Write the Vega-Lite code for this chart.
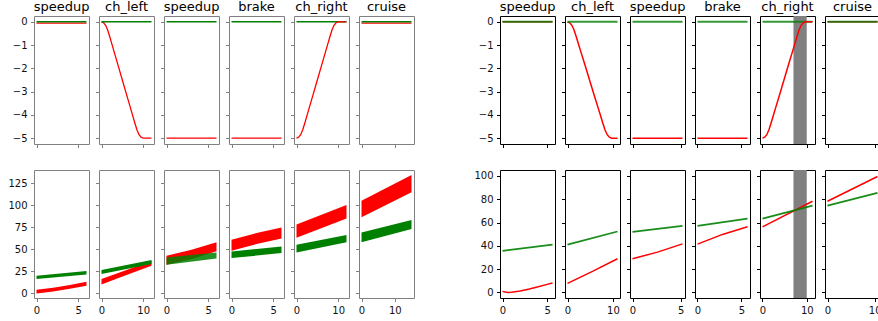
{
"$schema": "https://vega.github.io/schema/vega-lite/v6.json",
"padding": {"left": 7, "top": 0, "right": 0, "bottom": 0},
"columns": 13,
"bounds": "flush",
"align": "each",
"spacing": {"row": 26, "column": 10},
"config": {
  "font": "DejaVu Sans",
  "axis": {"domain": false, "grid": false, "tickSize": 3.5, "tickWidth": 1, "tickColor": "#000", "labelFontSize": 10, "labelPadding": 3.5, "labelColor": "#111", "labelFlush": false, "labelOverlap": false},
  "title": {"fontSize": 13, "fontWeight": "normal", "offset": 2.5, "color": "#000"},
  "view": {"strokeWidth": 1, "stroke": "#000"},
  "line": {"strokeCap": "butt"}
},
"concat": [
{
 "title": "speedup", "width": 55, "height": 128, "view": {"stroke": "#808080"},
 "data": {"values": [{"t":0,"y":-0.06,"agent":"ego"},{"t":6,"y":-0.06,"agent":"ego"},{"t":0,"y":0,"agent":"other"},{"t":6,"y":0,"agent":"other"}]},
 "encoding": {
  "x": {"field":"t","type":"quantitative","scale":{"domain":[-0.3,6.3],"nice":false,"zero":false},"axis":{"values":[0,5],"labels":false,"title":null,"tickColor":"#808080"}},
  "y": {"field":"y","type":"quantitative","scale":{"domain":[-5.25,0.25],"nice":false,"zero":false},"axis":{"values":[-5,-4,-3,-2,-1,0],"title":null,"tickColor":"#808080"}},
  "color": {"field":"agent","type":"nominal","scale":{"domain":["ego","other"],"range":["#ff0000","#008000"]},"legend":null}
 },
 "layer": [
  {"transform":[{"filter":"datum.agent==='ego'"}],"mark":{"type":"line","strokeWidth":1.3}},
  {"transform":[{"filter":"datum.agent==='other'"}],"mark":{"type":"line","strokeWidth":1.5}}
 ]
},
{
 "title": "ch_left", "width": 55, "height": 128, "view": {"stroke": "#808080"},
 "data": {"values": [{"t":0,"y":0,"agent":"ego"},{"t":0.5,"y":-0.04,"agent":"ego"},{"t":1,"y":-0.15,"agent":"ego"},{"t":1.5,"y":-0.36,"agent":"ego"},{"t":2,"y":-0.65,"agent":"ego"},{"t":2.5,"y":-0.96,"agent":"ego"},{"t":3,"y":-1.27,"agent":"ego"},{"t":4,"y":-1.88,"agent":"ego"},{"t":5,"y":-2.5,"agent":"ego"},{"t":6,"y":-3.12,"agent":"ego"},{"t":7,"y":-3.73,"agent":"ego"},{"t":7.5,"y":-4.04,"agent":"ego"},{"t":8,"y":-4.35,"agent":"ego"},{"t":8.5,"y":-4.64,"agent":"ego"},{"t":9,"y":-4.85,"agent":"ego"},{"t":9.5,"y":-4.96,"agent":"ego"},{"t":10,"y":-5,"agent":"ego"},{"t":12,"y":-5,"agent":"ego"},{"t":0,"y":0,"agent":"other"},{"t":12,"y":0,"agent":"other"}]},
 "encoding": {
  "x": {"field":"t","type":"quantitative","scale":{"domain":[-0.6,12.6],"nice":false,"zero":false},"axis":{"values":[0,10],"labels":false,"title":null,"tickColor":"#808080"}},
  "y": {"field":"y","type":"quantitative","scale":{"domain":[-5.25,0.25],"nice":false,"zero":false},"axis":{"values":[-5,-4,-3,-2,-1,0],"labels":false,"title":null,"tickColor":"#808080"}},
  "color": {"field":"agent","type":"nominal","scale":{"domain":["ego","other"],"range":["#ff0000","#008000"]},"legend":null}
 },
 "layer": [
  {"transform":[{"filter":"datum.agent==='ego'"}],"mark":{"type":"line","strokeWidth":1.3}},
  {"transform":[{"filter":"datum.agent==='other'"}],"mark":{"type":"line","strokeWidth":1.5}}
 ]
},
{
 "title": "speedup", "width": 55, "height": 128, "view": {"stroke": "#808080"},
 "data": {"values": [{"t":0,"y":-5,"agent":"ego"},{"t":6,"y":-5,"agent":"ego"},{"t":0,"y":0,"agent":"other"},{"t":6,"y":0,"agent":"other"}]},
 "encoding": {
  "x": {"field":"t","type":"quantitative","scale":{"domain":[-0.3,6.3],"nice":false,"zero":false},"axis":{"values":[0,5],"labels":false,"title":null,"tickColor":"#808080"}},
  "y": {"field":"y","type":"quantitative","scale":{"domain":[-5.25,0.25],"nice":false,"zero":false},"axis":{"values":[-5,-4,-3,-2,-1,0],"labels":false,"title":null,"tickColor":"#808080"}},
  "color": {"field":"agent","type":"nominal","scale":{"domain":["ego","other"],"range":["#ff0000","#008000"]},"legend":null}
 },
 "layer": [
  {"transform":[{"filter":"datum.agent==='ego'"}],"mark":{"type":"line","strokeWidth":1.3}},
  {"transform":[{"filter":"datum.agent==='other'"}],"mark":{"type":"line","strokeWidth":1.5}}
 ]
},
{
 "title": "brake", "width": 55, "height": 128, "view": {"stroke": "#808080"},
 "data": {"values": [{"t":0,"y":-5,"agent":"ego"},{"t":6,"y":-5,"agent":"ego"},{"t":0,"y":0,"agent":"other"},{"t":6,"y":0,"agent":"other"}]},
 "encoding": {
  "x": {"field":"t","type":"quantitative","scale":{"domain":[-0.3,6.3],"nice":false,"zero":false},"axis":{"values":[0,5],"labels":false,"title":null,"tickColor":"#808080"}},
  "y": {"field":"y","type":"quantitative","scale":{"domain":[-5.25,0.25],"nice":false,"zero":false},"axis":{"values":[-5,-4,-3,-2,-1,0],"labels":false,"title":null,"tickColor":"#808080"}},
  "color": {"field":"agent","type":"nominal","scale":{"domain":["ego","other"],"range":["#ff0000","#008000"]},"legend":null}
 },
 "layer": [
  {"transform":[{"filter":"datum.agent==='ego'"}],"mark":{"type":"line","strokeWidth":1.3}},
  {"transform":[{"filter":"datum.agent==='other'"}],"mark":{"type":"line","strokeWidth":1.5}}
 ]
},
{
 "title": "ch_right", "width": 55, "height": 128, "view": {"stroke": "#808080"},
 "data": {"values": [{"t":0,"y":-5,"agent":"ego"},{"t":0.5,"y":-4.96,"agent":"ego"},{"t":1,"y":-4.85,"agent":"ego"},{"t":1.5,"y":-4.64,"agent":"ego"},{"t":2,"y":-4.35,"agent":"ego"},{"t":2.5,"y":-4.04,"agent":"ego"},{"t":3,"y":-3.73,"agent":"ego"},{"t":4,"y":-3.12,"agent":"ego"},{"t":5,"y":-2.5,"agent":"ego"},{"t":6,"y":-1.88,"agent":"ego"},{"t":7,"y":-1.27,"agent":"ego"},{"t":7.5,"y":-0.96,"agent":"ego"},{"t":8,"y":-0.65,"agent":"ego"},{"t":8.5,"y":-0.36,"agent":"ego"},{"t":9,"y":-0.15,"agent":"ego"},{"t":9.5,"y":-0.04,"agent":"ego"},{"t":10,"y":0,"agent":"ego"},{"t":12,"y":0,"agent":"ego"},{"t":0,"y":0,"agent":"other"},{"t":12,"y":0,"agent":"other"}]},
 "encoding": {
  "x": {"field":"t","type":"quantitative","scale":{"domain":[-0.6,12.6],"nice":false,"zero":false},"axis":{"values":[0,10],"labels":false,"title":null,"tickColor":"#808080"}},
  "y": {"field":"y","type":"quantitative","scale":{"domain":[-5.25,0.25],"nice":false,"zero":false},"axis":{"values":[-5,-4,-3,-2,-1,0],"labels":false,"title":null,"tickColor":"#808080"}},
  "color": {"field":"agent","type":"nominal","scale":{"domain":["ego","other"],"range":["#ff0000","#008000"]},"legend":null}
 },
 "layer": [
  {"transform":[{"filter":"datum.agent==='other'"}],"mark":{"type":"line","strokeWidth":1.5}},
  {"transform":[{"filter":"datum.agent==='ego'"}],"mark":{"type":"line","strokeWidth":1.3}}
 ]
},
{
 "title": "cruise", "width": 55, "height": 128, "view": {"stroke": "#808080"},
 "data": {"values": [{"t":0,"y":-0.06,"agent":"ego"},{"t":15,"y":-0.06,"agent":"ego"},{"t":0,"y":0,"agent":"other"},{"t":15,"y":0,"agent":"other"}]},
 "encoding": {
  "x": {"field":"t","type":"quantitative","scale":{"domain":[-0.75,15.75],"nice":false,"zero":false},"axis":{"values":[0,10],"labels":false,"title":null,"tickColor":"#808080"}},
  "y": {"field":"y","type":"quantitative","scale":{"domain":[-5.25,0.25],"nice":false,"zero":false},"axis":{"values":[-5,-4,-3,-2,-1,0],"labels":false,"title":null,"tickColor":"#808080"}},
  "color": {"field":"agent","type":"nominal","scale":{"domain":["ego","other"],"range":["#ff0000","#008000"]},"legend":null}
 },
 "layer": [
  {"transform":[{"filter":"datum.agent==='ego'"}],"mark":{"type":"line","strokeWidth":1.3}},
  {"transform":[{"filter":"datum.agent==='other'"}],"mark":{"type":"line","strokeWidth":1.5}}
 ]
},
{
 "width": 66, "height": 128, "view": {"stroke": null},
 "data": {"values": [{}]},
 "mark": {"type": "point", "opacity": 0}
},
{
 "title": "speedup", "width": 55, "height": 128,
 "data": {"values": [{"t":0,"y":0,"agent":"ego"},{"t":5.6,"y":0,"agent":"ego"},{"t":0,"y":0,"agent":"other"},{"t":5.6,"y":0,"agent":"other"}]},
 "encoding": {
  "x": {"field":"t","type":"quantitative","scale":{"domain":[-0.28,5.88],"nice":false,"zero":false},"axis":{"values":[0,5],"labels":false,"title":null}},
  "y": {"field":"y","type":"quantitative","scale":{"domain":[-5.25,0.25],"nice":false,"zero":false},"axis":{"values":[-5,-4,-3,-2,-1,0],"title":null}},
  "color": {"field":"agent","type":"nominal","scale":{"domain":["ego","other"],"range":["#ff0000","#008000"]},"legend":null}
 },
 "layer": [
  {"transform":[{"filter":"datum.agent==='ego'"}],"mark":{"type":"line","strokeWidth":1.5}},
  {"transform":[{"filter":"datum.agent==='other'"}],"mark":{"type":"line","strokeWidth":2,"opacity":0.8}}
 ]
},
{
 "title": "ch_left", "width": 55, "height": 128,
 "data": {"values": [{"t":0,"y":0,"agent":"ego"},{"t":0.49,"y":-0.04,"agent":"ego"},{"t":0.97,"y":-0.15,"agent":"ego"},{"t":1.46,"y":-0.36,"agent":"ego"},{"t":1.94,"y":-0.65,"agent":"ego"},{"t":2.43,"y":-0.96,"agent":"ego"},{"t":2.91,"y":-1.27,"agent":"ego"},{"t":3.88,"y":-1.88,"agent":"ego"},{"t":4.85,"y":-2.5,"agent":"ego"},{"t":5.82,"y":-3.12,"agent":"ego"},{"t":6.79,"y":-3.73,"agent":"ego"},{"t":7.28,"y":-4.04,"agent":"ego"},{"t":7.76,"y":-4.35,"agent":"ego"},{"t":8.25,"y":-4.64,"agent":"ego"},{"t":8.73,"y":-4.85,"agent":"ego"},{"t":9.22,"y":-4.96,"agent":"ego"},{"t":9.7,"y":-5,"agent":"ego"},{"t":11,"y":-5,"agent":"ego"},{"t":0,"y":0,"agent":"other"},{"t":11,"y":0,"agent":"other"}]},
 "encoding": {
  "x": {"field":"t","type":"quantitative","scale":{"domain":[-0.55,11.55],"nice":false,"zero":false},"axis":{"values":[0,10],"labels":false,"title":null}},
  "y": {"field":"y","type":"quantitative","scale":{"domain":[-5.25,0.25],"nice":false,"zero":false},"axis":{"values":[-5,-4,-3,-2,-1,0],"labels":false,"title":null}},
  "color": {"field":"agent","type":"nominal","scale":{"domain":["ego","other"],"range":["#ff0000","#008000"]},"legend":null}
 },
 "layer": [
  {"transform":[{"filter":"datum.agent==='ego'"}],"mark":{"type":"line","strokeWidth":1.5}},
  {"transform":[{"filter":"datum.agent==='other'"}],"mark":{"type":"line","strokeWidth":2,"opacity":0.8}}
 ]
},
{
 "title": "speedup", "width": 55, "height": 128,
 "data": {"values": [{"t":0,"y":-5,"agent":"ego"},{"t":5.2,"y":-5,"agent":"ego"},{"t":0,"y":0,"agent":"other"},{"t":5.2,"y":0,"agent":"other"}]},
 "encoding": {
  "x": {"field":"t","type":"quantitative","scale":{"domain":[-0.26,5.46],"nice":false,"zero":false},"axis":{"values":[0,5],"labels":false,"title":null}},
  "y": {"field":"y","type":"quantitative","scale":{"domain":[-5.25,0.25],"nice":false,"zero":false},"axis":{"values":[-5,-4,-3,-2,-1,0],"labels":false,"title":null}},
  "color": {"field":"agent","type":"nominal","scale":{"domain":["ego","other"],"range":["#ff0000","#008000"]},"legend":null}
 },
 "layer": [
  {"transform":[{"filter":"datum.agent==='ego'"}],"mark":{"type":"line","strokeWidth":1.5}},
  {"transform":[{"filter":"datum.agent==='other'"}],"mark":{"type":"line","strokeWidth":2,"opacity":0.8}}
 ]
},
{
 "title": "brake", "width": 55, "height": 128,
 "data": {"values": [{"t":0,"y":-5,"agent":"ego"},{"t":5.7,"y":-5,"agent":"ego"},{"t":0,"y":0,"agent":"other"},{"t":5.7,"y":0,"agent":"other"}]},
 "encoding": {
  "x": {"field":"t","type":"quantitative","scale":{"domain":[-0.285,5.985],"nice":false,"zero":false},"axis":{"values":[0,5],"labels":false,"title":null}},
  "y": {"field":"y","type":"quantitative","scale":{"domain":[-5.25,0.25],"nice":false,"zero":false},"axis":{"values":[-5,-4,-3,-2,-1,0],"labels":false,"title":null}},
  "color": {"field":"agent","type":"nominal","scale":{"domain":["ego","other"],"range":["#ff0000","#008000"]},"legend":null}
 },
 "layer": [
  {"transform":[{"filter":"datum.agent==='ego'"}],"mark":{"type":"line","strokeWidth":1.5}},
  {"transform":[{"filter":"datum.agent==='other'"}],"mark":{"type":"line","strokeWidth":2,"opacity":0.8}}
 ]
},
{
 "title": "ch_right", "width": 55, "height": 128,
 "layer": [
  {
   "data": {"values": [{"start":7,"end":10}]},
   "mark": {"type":"rect","color":"#808080"},
   "encoding": {
    "x": {"field":"start","type":"quantitative","scale":{"domain":[-0.565,11.865],"nice":false,"zero":false},"axis":{"values":[0,10],"labels":false,"title":null}},
    "x2": {"field":"end"}
   }
  },
  {
   "data": {"values": [{"t":0,"y":-5,"agent":"ego"},{"t":0.49,"y":-4.96,"agent":"ego"},{"t":0.97,"y":-4.85,"agent":"ego"},{"t":1.46,"y":-4.64,"agent":"ego"},{"t":1.94,"y":-4.35,"agent":"ego"},{"t":2.43,"y":-4.04,"agent":"ego"},{"t":2.91,"y":-3.73,"agent":"ego"},{"t":3.88,"y":-3.12,"agent":"ego"},{"t":4.85,"y":-2.5,"agent":"ego"},{"t":5.82,"y":-1.88,"agent":"ego"},{"t":6.79,"y":-1.27,"agent":"ego"},{"t":7.28,"y":-0.96,"agent":"ego"},{"t":7.76,"y":-0.65,"agent":"ego"},{"t":8.25,"y":-0.36,"agent":"ego"},{"t":8.73,"y":-0.15,"agent":"ego"},{"t":9.22,"y":-0.04,"agent":"ego"},{"t":9.7,"y":0,"agent":"ego"},{"t":11.3,"y":0,"agent":"ego"},{"t":0,"y":0,"agent":"other"},{"t":11.3,"y":0,"agent":"other"}]},
   "encoding": {
    "x": {"field":"t","type":"quantitative"},
    "y": {"field":"y","type":"quantitative","scale":{"domain":[-5.25,0.25],"nice":false,"zero":false},"axis":{"values":[-5,-4,-3,-2,-1,0],"labels":false,"title":null}},
    "color": {"field":"agent","type":"nominal","scale":{"domain":["ego","other"],"range":["#ff0000","#008000"]},"legend":null}
   },
   "layer": [
    {"transform":[{"filter":"datum.agent==='other'"}],"mark":{"type":"line","strokeWidth":2,"opacity":0.8}},
    {"transform":[{"filter":"datum.agent==='ego'"}],"mark":{"type":"line","strokeWidth":1.5}}
   ]
  }
 ]
},
{
 "title": "cruise", "width": 55, "height": 128,
 "data": {"values": [{"t":0,"y":0,"agent":"ego"},{"t":10.6,"y":0,"agent":"ego"},{"t":0,"y":0,"agent":"other"},{"t":10.6,"y":0,"agent":"other"}]},
 "encoding": {
  "x": {"field":"t","type":"quantitative","scale":{"domain":[-0.53,11.13],"nice":false,"zero":false},"axis":{"values":[0,10],"labels":false,"title":null}},
  "y": {"field":"y","type":"quantitative","scale":{"domain":[-5.25,0.25],"nice":false,"zero":false},"axis":{"values":[-5,-4,-3,-2,-1,0],"labels":false,"title":null}},
  "color": {"field":"agent","type":"nominal","scale":{"domain":["ego","other"],"range":["#ff0000","#008000"]},"legend":null}
 },
 "layer": [
  {"transform":[{"filter":"datum.agent==='ego'"}],"mark":{"type":"line","strokeWidth":1.5}},
  {"transform":[{"filter":"datum.agent==='other'"}],"mark":{"type":"line","strokeWidth":2,"opacity":0.8}}
 ]
},
{
 "width": 55, "height": 128, "view": {"stroke": "#808080"},
 "data": {"values": [{"t":0,"lo":0,"hi":4.2,"agent":"ego"},{"t":2,"lo":2.3,"hi":6.5,"agent":"ego"},{"t":4,"lo":5.2,"hi":9.5,"agent":"ego"},{"t":6,"lo":8.8,"hi":13.3,"agent":"ego"},{"t":0,"lo":16.3,"hi":20.1,"agent":"other"},{"t":6,"lo":21.6,"hi":25.4,"agent":"other"}]},
 "encoding": {
  "x": {"field":"t","type":"quantitative","scale":{"domain":[-0.3,6.3],"nice":false,"zero":false},"axis":{"values":[0,5],"title":null,"tickColor":"#808080"}},
  "y": {"field":"lo","type":"quantitative","scale":{"domain":[-5.2,140.2],"nice":false,"zero":false},"axis":{"values":[0,25,50,75,100,125],"title":null,"tickColor":"#808080"}},
  "y2": {"field":"hi"},
  "color": {"field":"agent","type":"nominal","scale":{"domain":["ego","other"],"range":["#ff0000","#008000"]},"legend":null}
 },
 "layer": [
  {"transform":[{"filter":"datum.agent==='ego'"}],"mark":{"type":"area"}},
  {"transform":[{"filter":"datum.agent==='other'"}],"mark":{"type":"area"}}
 ]
},
{
 "width": 55, "height": 128, "view": {"stroke": "#808080"},
 "data": {"values": [{"t":0,"lo":10.2,"hi":16.3,"agent":"ego"},{"t":6,"lo":20.8,"hi":26.7,"agent":"ego"},{"t":12,"lo":31.5,"hi":37.2,"agent":"ego"},{"t":0,"lo":22,"hi":26.6,"agent":"other"},{"t":12,"lo":33.5,"hi":38,"agent":"other"}]},
 "encoding": {
  "x": {"field":"t","type":"quantitative","scale":{"domain":[-0.6,12.6],"nice":false,"zero":false},"axis":{"values":[0,10],"title":null,"tickColor":"#808080"}},
  "y": {"field":"lo","type":"quantitative","scale":{"domain":[-5.2,140.2],"nice":false,"zero":false},"axis":{"values":[0,25,50,75,100,125],"labels":false,"title":null,"tickColor":"#808080"}},
  "y2": {"field":"hi"},
  "color": {"field":"agent","type":"nominal","scale":{"domain":["ego","other"],"range":["#ff0000","#008000"]},"legend":null}
 },
 "layer": [
  {"transform":[{"filter":"datum.agent==='ego'"}],"mark":{"type":"area"}},
  {"transform":[{"filter":"datum.agent==='other'"}],"mark":{"type":"area"}}
 ]
},
{
 "width": 55, "height": 128, "view": {"stroke": "#808080"},
 "data": {"values": [{"t":0,"lo":32.6,"hi":42.8,"agent":"ego"},{"t":3,"lo":39,"hi":49.5,"agent":"ego"},{"t":6,"lo":47.8,"hi":58,"agent":"ego"},{"t":0,"lo":32.6,"hi":40.9,"agent":"other"},{"t":6,"lo":39.8,"hi":46.6,"agent":"other"}]},
 "encoding": {
  "x": {"field":"t","type":"quantitative","scale":{"domain":[-0.3,6.3],"nice":false,"zero":false},"axis":{"values":[0,5],"title":null,"tickColor":"#808080"}},
  "y": {"field":"lo","type":"quantitative","scale":{"domain":[-5.2,140.2],"nice":false,"zero":false},"axis":{"values":[0,25,50,75,100,125],"labels":false,"title":null,"tickColor":"#808080"}},
  "y2": {"field":"hi"},
  "color": {"field":"agent","type":"nominal","scale":{"domain":["ego","other"],"range":["#ff0000","#008000"]},"legend":null}
 },
 "layer": [
  {"transform":[{"filter":"datum.agent==='ego'"}],"mark":{"type":"area"}},
  {"transform":[{"filter":"datum.agent==='other'"}],"mark":{"type":"area","opacity":0.85}}
 ]
},
{
 "width": 55, "height": 128, "view": {"stroke": "#808080"},
 "data": {"values": [{"t":0,"lo":48.5,"hi":61,"agent":"ego"},{"t":3,"lo":56,"hi":68.5,"agent":"ego"},{"t":6,"lo":62.5,"hi":75,"agent":"ego"},{"t":0,"lo":40.1,"hi":47.7,"agent":"other"},{"t":6,"lo":45.8,"hi":53.4,"agent":"other"}]},
 "encoding": {
  "x": {"field":"t","type":"quantitative","scale":{"domain":[-0.3,6.3],"nice":false,"zero":false},"axis":{"values":[0,5],"title":null,"tickColor":"#808080"}},
  "y": {"field":"lo","type":"quantitative","scale":{"domain":[-5.2,140.2],"nice":false,"zero":false},"axis":{"values":[0,25,50,75,100,125],"labels":false,"title":null,"tickColor":"#808080"}},
  "y2": {"field":"hi"},
  "color": {"field":"agent","type":"nominal","scale":{"domain":["ego","other"],"range":["#ff0000","#008000"]},"legend":null}
 },
 "layer": [
  {"transform":[{"filter":"datum.agent==='ego'"}],"mark":{"type":"area"}},
  {"transform":[{"filter":"datum.agent==='other'"}],"mark":{"type":"area"}}
 ]
},
{
 "width": 55, "height": 128, "view": {"stroke": "#808080"},
 "data": {"values": [{"t":0,"lo":63.3,"hi":78.4,"agent":"ego"},{"t":12,"lo":85.2,"hi":100.4,"agent":"ego"},{"t":0,"lo":46.6,"hi":55.3,"agent":"other"},{"t":12,"lo":58,"hi":66.3,"agent":"other"}]},
 "encoding": {
  "x": {"field":"t","type":"quantitative","scale":{"domain":[-0.6,12.6],"nice":false,"zero":false},"axis":{"values":[0,10],"title":null,"tickColor":"#808080"}},
  "y": {"field":"lo","type":"quantitative","scale":{"domain":[-5.2,140.2],"nice":false,"zero":false},"axis":{"values":[0,25,50,75,100,125],"labels":false,"title":null,"tickColor":"#808080"}},
  "y2": {"field":"hi"},
  "color": {"field":"agent","type":"nominal","scale":{"domain":["ego","other"],"range":["#ff0000","#008000"]},"legend":null}
 },
 "layer": [
  {"transform":[{"filter":"datum.agent==='ego'"}],"mark":{"type":"area"}},
  {"transform":[{"filter":"datum.agent==='other'"}],"mark":{"type":"area"}}
 ]
},
{
 "width": 55, "height": 128, "view": {"stroke": "#808080"},
 "data": {"values": [{"t":0,"lo":86.4,"hi":105.3,"agent":"ego"},{"t":15,"lo":114.8,"hi":134.5,"agent":"ego"},{"t":0,"lo":58,"hi":69.3,"agent":"other"},{"t":15,"lo":73.2,"hi":83.4,"agent":"other"}]},
 "encoding": {
  "x": {"field":"t","type":"quantitative","scale":{"domain":[-0.75,15.75],"nice":false,"zero":false},"axis":{"values":[0,10],"title":null,"tickColor":"#808080"}},
  "y": {"field":"lo","type":"quantitative","scale":{"domain":[-5.2,140.2],"nice":false,"zero":false},"axis":{"values":[0,25,50,75,100,125],"labels":false,"title":null,"tickColor":"#808080"}},
  "y2": {"field":"hi"},
  "color": {"field":"agent","type":"nominal","scale":{"domain":["ego","other"],"range":["#ff0000","#008000"]},"legend":null}
 },
 "layer": [
  {"transform":[{"filter":"datum.agent==='ego'"}],"mark":{"type":"area"}},
  {"transform":[{"filter":"datum.agent==='other'"}],"mark":{"type":"area"}}
 ]
},
{
 "width": 66, "height": 128, "view": {"stroke": null},
 "data": {"values": [{}]},
 "mark": {"type": "point", "opacity": 0}
},
{
 "width": 55, "height": 128,
 "data": {"values": [{"t":0,"y":0.9,"agent":"ego"},{"t":0.3,"y":0.3,"agent":"ego"},{"t":0.6,"y":0,"agent":"ego"},{"t":1,"y":0.1,"agent":"ego"},{"t":2,"y":1.2,"agent":"ego"},{"t":3,"y":2.9,"agent":"ego"},{"t":4,"y":4.8,"agent":"ego"},{"t":5,"y":6.9,"agent":"ego"},{"t":5.6,"y":8,"agent":"ego"},{"t":0,"y":35.7,"agent":"other"},{"t":5.6,"y":41.1,"agent":"other"}]},
 "encoding": {
  "x": {"field":"t","type":"quantitative","scale":{"domain":[-0.28,5.88],"nice":false,"zero":false},"axis":{"values":[0,5],"title":null}},
  "y": {"field":"y","type":"quantitative","scale":{"domain":[-4.8,105.1],"nice":false,"zero":false},"axis":{"values":[0,20,40,60,80,100],"title":null}},
  "color": {"field":"agent","type":"nominal","scale":{"domain":["ego","other"],"range":["#ff0000","#008000"]},"legend":null}
 },
 "layer": [
  {"transform":[{"filter":"datum.agent==='ego'"}],"mark":{"type":"line","strokeWidth":1.5}},
  {"transform":[{"filter":"datum.agent==='other'"}],"mark":{"type":"line","strokeWidth":1.8,"opacity":0.9}}
 ]
},
{
 "width": 55, "height": 128,
 "data": {"values": [{"t":0,"y":7.7,"agent":"ego"},{"t":5.5,"y":18,"agent":"ego"},{"t":11,"y":28.9,"agent":"ego"},{"t":0,"y":41.1,"agent":"other"},{"t":11,"y":52.3,"agent":"other"}]},
 "encoding": {
  "x": {"field":"t","type":"quantitative","scale":{"domain":[-0.55,11.55],"nice":false,"zero":false},"axis":{"values":[0,10],"title":null}},
  "y": {"field":"y","type":"quantitative","scale":{"domain":[-4.8,105.1],"nice":false,"zero":false},"axis":{"values":[0,20,40,60,80,100],"labels":false,"title":null}},
  "color": {"field":"agent","type":"nominal","scale":{"domain":["ego","other"],"range":["#ff0000","#008000"]},"legend":null}
 },
 "layer": [
  {"transform":[{"filter":"datum.agent==='ego'"}],"mark":{"type":"line","strokeWidth":1.5}},
  {"transform":[{"filter":"datum.agent==='other'"}],"mark":{"type":"line","strokeWidth":1.8,"opacity":0.9}}
 ]
},
{
 "width": 55, "height": 128,
 "data": {"values": [{"t":0,"y":28.9,"agent":"ego"},{"t":2.6,"y":34.6,"agent":"ego"},{"t":5.2,"y":41.7,"agent":"ego"},{"t":0,"y":52,"agent":"other"},{"t":5.2,"y":57.2,"agent":"other"}]},
 "encoding": {
  "x": {"field":"t","type":"quantitative","scale":{"domain":[-0.26,5.46],"nice":false,"zero":false},"axis":{"values":[0,5],"title":null}},
  "y": {"field":"y","type":"quantitative","scale":{"domain":[-4.8,105.1],"nice":false,"zero":false},"axis":{"values":[0,20,40,60,80,100],"labels":false,"title":null}},
  "color": {"field":"agent","type":"nominal","scale":{"domain":["ego","other"],"range":["#ff0000","#008000"]},"legend":null}
 },
 "layer": [
  {"transform":[{"filter":"datum.agent==='ego'"}],"mark":{"type":"line","strokeWidth":1.5}},
  {"transform":[{"filter":"datum.agent==='other'"}],"mark":{"type":"line","strokeWidth":1.8,"opacity":0.9}}
 ]
},
{
 "width": 55, "height": 128,
 "data": {"values": [{"t":0,"y":41.5,"agent":"ego"},{"t":2.85,"y":49.8,"agent":"ego"},{"t":5.7,"y":56.3,"agent":"ego"},{"t":0,"y":57.2,"agent":"other"},{"t":5.7,"y":63.4,"agent":"other"}]},
 "encoding": {
  "x": {"field":"t","type":"quantitative","scale":{"domain":[-0.285,5.985],"nice":false,"zero":false},"axis":{"values":[0,5],"title":null}},
  "y": {"field":"y","type":"quantitative","scale":{"domain":[-4.8,105.1],"nice":false,"zero":false},"axis":{"values":[0,20,40,60,80,100],"labels":false,"title":null}},
  "color": {"field":"agent","type":"nominal","scale":{"domain":["ego","other"],"range":["#ff0000","#008000"]},"legend":null}
 },
 "layer": [
  {"transform":[{"filter":"datum.agent==='ego'"}],"mark":{"type":"line","strokeWidth":1.5}},
  {"transform":[{"filter":"datum.agent==='other'"}],"mark":{"type":"line","strokeWidth":1.8,"opacity":0.9}}
 ]
},
{
 "width": 55, "height": 128,
 "layer": [
  {
   "data": {"values": [{"start":7,"end":10}]},
   "mark": {"type":"rect","color":"#808080"},
   "encoding": {
    "x": {"field":"start","type":"quantitative","scale":{"domain":[-0.565,11.865],"nice":false,"zero":false},"axis":{"values":[0,10],"title":null}},
    "x2": {"field":"end"}
   }
  },
  {
   "data": {"values": [{"t":0,"y":56.3,"agent":"ego"},{"t":11.3,"y":78.3,"agent":"ego"},{"t":0,"y":63.4,"agent":"other"},{"t":11.3,"y":74.6,"agent":"other"}]},
   "encoding": {
    "x": {"field":"t","type":"quantitative"},
    "y": {"field":"y","type":"quantitative","scale":{"domain":[-4.8,105.1],"nice":false,"zero":false},"axis":{"values":[0,20,40,60,80,100],"labels":false,"title":null}},
    "color": {"field":"agent","type":"nominal","scale":{"domain":["ego","other"],"range":["#ff0000","#008000"]},"legend":null}
   },
   "layer": [
    {"transform":[{"filter":"datum.agent==='ego'"}],"mark":{"type":"line","strokeWidth":1.5}},
    {"transform":[{"filter":"datum.agent==='other'"}],"mark":{"type":"line","strokeWidth":1.8,"opacity":0.9}}
   ]
  }
 ]
},
{
 "width": 55, "height": 128,
 "data": {"values": [{"t":0,"y":78.3,"agent":"ego"},{"t":10.6,"y":99.5,"agent":"ego"},{"t":0,"y":74.6,"agent":"other"},{"t":10.6,"y":85.4,"agent":"other"}]},
 "encoding": {
  "x": {"field":"t","type":"quantitative","scale":{"domain":[-0.53,11.13],"nice":false,"zero":false},"axis":{"values":[0,10],"title":null}},
  "y": {"field":"y","type":"quantitative","scale":{"domain":[-4.8,105.1],"nice":false,"zero":false},"axis":{"values":[0,20,40,60,80,100],"labels":false,"title":null}},
  "color": {"field":"agent","type":"nominal","scale":{"domain":["ego","other"],"range":["#ff0000","#008000"]},"legend":null}
 },
 "layer": [
  {"transform":[{"filter":"datum.agent==='ego'"}],"mark":{"type":"line","strokeWidth":1.5}},
  {"transform":[{"filter":"datum.agent==='other'"}],"mark":{"type":"line","strokeWidth":1.8,"opacity":0.9}}
 ]
}
]
}
